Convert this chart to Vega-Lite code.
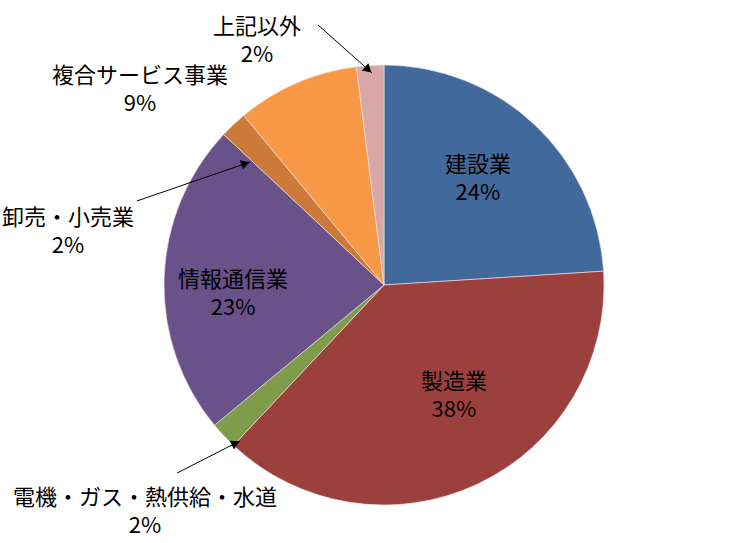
{
  "$schema": "https://vega.github.io/schema/vega-lite/v6.json",
  "width": 740,
  "height": 516,
  "autosize": {"type": "none"},
  "padding": {"left": 14, "top": 27, "right": 0, "bottom": 0},
  "background": "white",
  "config": {
    "view": {"stroke": null},
    "text": {"font": "Noto Sans CJK JP", "fontSize": 22, "color": "#000000"}
  },
  "datasets": {
    "share": [
      {"category": "建設業", "value": 24, "i": 1},
      {"category": "製造業", "value": 38, "i": 2},
      {"category": "電機・ガス・熱供給・水道", "value": 2, "i": 3},
      {"category": "情報通信業", "value": 23, "i": 4},
      {"category": "卸売・小売業", "value": 2, "i": 5},
      {"category": "複合サービス事業", "value": 9, "i": 6},
      {"category": "上記以外", "value": 2, "i": 7}
    ],
    "labels": [
      {"category": "建設業", "x": 0.427, "y": 0.482},
      {"category": "製造業", "x": 0.318, "y": -0.505},
      {"category": "情報通信業", "x": -0.686, "y": -0.041},
      {"category": "上記以外", "x": -0.577, "y": 1.111},
      {"category": "複合サービス事業", "x": -1.109, "y": 0.886},
      {"category": "卸売・小売業", "x": -1.436, "y": 0.241},
      {"category": "電機・ガス・熱供給・水道", "x": -1.086, "y": -1.032}
    ],
    "arrows": [
      {"category": "上記以外", "x": -0.3, "y": 1.182, "x2": -0.055, "y2": 0.964},
      {"category": "卸売・小売業", "x": -1.123, "y": 0.382, "x2": -0.609, "y2": 0.559},
      {"category": "電機・ガス・熱供給・水道", "x": -0.941, "y": -0.855, "x2": -0.655, "y2": -0.709}
    ]
  },
  "layer": [
    {
      "data": {"name": "share"},
      "mark": {"type": "arc", "outerRadius": 220, "stroke": "#f4e6e6", "strokeWidth": 0.6},
      "encoding": {
        "theta": {"field": "value", "type": "quantitative", "stack": true},
        "order": {"field": "i", "type": "quantitative"},
        "color": {
          "field": "category",
          "type": "nominal",
          "scale": {
            "domain": ["建設業", "製造業", "電機・ガス・熱供給・水道", "情報通信業", "卸売・小売業", "複合サービス事業", "上記以外"],
            "range": ["#41699b", "#9c403d", "#7e9b4a", "#69518a", "#cb7a3a", "#f79847", "#d8a8a8"]
          },
          "legend": null
        }
      }
    },
    {
      "data": {"name": "labels"},
      "transform": [
        {"lookup": "category", "from": {"data": {"name": "share"}, "key": "category", "fields": ["value"]}},
        {"calculate": "[datum.category, datum.value + '%']", "as": "label"}
      ],
      "mark": {"type": "text", "lineHeight": 28, "baseline": "middle", "dy": -14},
      "encoding": {
        "x": {"field": "x", "type": "quantitative", "scale": {"domain": [-1.6818, 1.6818], "nice": false, "zero": false}, "axis": null},
        "y": {"field": "y", "type": "quantitative", "scale": {"domain": [-1.1727, 1.1727], "nice": false, "zero": false}, "axis": null},
        "text": {"field": "label", "type": "nominal"}
      }
    },
    {
      "data": {"name": "arrows"},
      "mark": {"type": "rule", "color": "#000000", "strokeWidth": 1},
      "encoding": {
        "x": {"field": "x", "type": "quantitative", "scale": {"domain": [-1.6818, 1.6818], "nice": false, "zero": false}, "axis": null},
        "y": {"field": "y", "type": "quantitative", "scale": {"domain": [-1.1727, 1.1727], "nice": false, "zero": false}, "axis": null},
        "x2": {"field": "x2"},
        "y2": {"field": "y2"}
      }
    },
    {
      "data": {"name": "arrows"},
      "transform": [
        {"calculate": "sqrt(pow(datum.x2 - datum.x, 2) + pow(datum.y2 - datum.y, 2))", "as": "len"},
        {"calculate": "datum.x2 - 0.022 * (datum.x2 - datum.x) / datum.len", "as": "hx"},
        {"calculate": "datum.y2 - 0.022 * (datum.y2 - datum.y) / datum.len", "as": "hy"},
        {"calculate": "atan2(datum.x2 - datum.x, datum.y2 - datum.y) * 180 / PI", "as": "ang"}
      ],
      "mark": {"type": "point", "shape": "triangle-up", "filled": true, "color": "#000000", "opacity": 1, "size": 95},
      "encoding": {
        "x": {"field": "hx", "type": "quantitative", "scale": {"domain": [-1.6818, 1.6818], "nice": false, "zero": false}, "axis": null},
        "y": {"field": "hy", "type": "quantitative", "scale": {"domain": [-1.1727, 1.1727], "nice": false, "zero": false}, "axis": null},
        "angle": {"field": "ang", "type": "quantitative", "scale": null}
      }
    }
  ]
}
